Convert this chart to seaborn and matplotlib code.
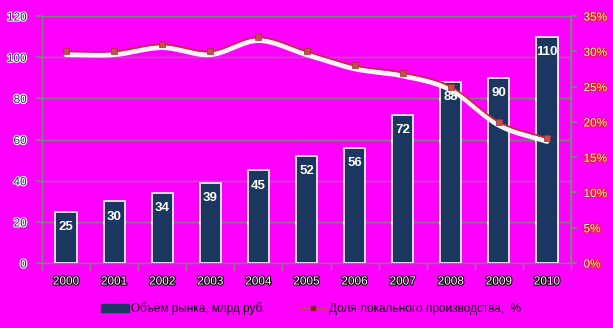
import numpy as np
import pandas as pd
import matplotlib
matplotlib.use("Agg")
import matplotlib.pyplot as plt
import matplotlib.patheffects as pe
from matplotlib.lines import Line2D
from matplotlib.patches import Patch
import seaborn as sns

years = ["2000", "2001", "2002", "2003", "2004", "2005", "2006", "2007", "2008", "2009", "2010"]
market_volume = [25, 30, 34, 39, 45, 52, 56, 72, 88, 90, 110]
local_share = [30.0, 30.0, 31.0, 30.0, 32.0, 30.0, 28.0, 27.0, 25.0, 20.0, 17.7]
left_ticks = [0, 20, 40, 60, 80, 100, 120]
right_ticks = [0, 5, 10, 15, 20, 25, 30, 35]
bar_label = "Объём рынка, млрд руб."
line_label = "Доля локального производства,  %"

sns.set_theme(style="white")
plt.rcParams["font.family"] = ["Liberation Sans", "DejaVu Sans"]

BG = "#FF00FF"
NAVY = "#1B3660"
RED = "#C0504D"
GRID = "#808080"

fig = plt.figure(figsize=(6.13, 3.28), dpi=100, facecolor=BG)
ax = fig.add_axes([0.0685, 0.198, 0.863, 0.753])
ax.set_facecolor(BG)

df = pd.DataFrame({"year": years, "volume": market_volume, "share": local_share})

sns.barplot(data=df, x="year", y="volume", ax=ax, color=NAVY, saturation=1,
            edgecolor="white", linewidth=1.2, width=0.44, zorder=3)
ax.set_ylim(0, 120)
ax.set_xlim(-0.5, len(years) - 0.5)
ax.set_yticks(left_ticks)
ax.set_xlabel("")
ax.set_ylabel("")
ax.grid(axis="y", color=GRID, linewidth=1.0, zorder=0)
ax.set_axisbelow(True)

for i, v in enumerate(market_volume):
    ax.annotate(str(v), (i, v), xytext=(0, -11), textcoords="offset points",
                ha="center", va="center", color="white", fontsize=9.5,
                fontweight="bold", zorder=5)

ax.spines["top"].set_visible(False)
for s in ["left", "bottom", "right"]:
    ax.spines[s].set_color(GRID)
    ax.spines[s].set_linewidth(1.0)

ax.tick_params(axis="y", length=4, color=GRID, direction="out", left=True,
               labelsize=8.5, labelcolor=NAVY, pad=7)
ax.tick_params(axis="x", length=0, labelsize=8.5, labelcolor="white", pad=9)
ax.set_xticks(np.arange(len(years) + 1) - 0.5, minor=True)
ax.tick_params(axis="x", which="minor", length=5, color=GRID, bottom=True)
for t in ax.get_yticklabels():
    t.set_path_effects([pe.withStroke(linewidth=1.5, foreground="white")])
for t in ax.get_xticklabels():
    t.set_path_effects([pe.withStroke(linewidth=1.5, foreground="black")])

ax2 = ax.twinx()
ax2.set_ylim(0, 35)
ax2.set_yticks(right_ticks)
ax2.set_yticklabels([f"{t}%" for t in right_ticks])
ax2.grid(False)
for s in ["top", "left", "bottom"]:
    ax2.spines[s].set_visible(False)
ax2.spines["right"].set_color(GRID)
ax2.tick_params(axis="y", length=4, color=GRID, direction="out", right=True,
                labelsize=8.5, labelcolor="#FFF4E0", pad=5)
for t in ax2.get_yticklabels():
    t.set_path_effects([pe.withStroke(linewidth=1.3, foreground="#E02020")])

# smooth curve through the data points (Catmull-Rom)
x = np.arange(len(years), dtype=float)
y = np.array(local_share, dtype=float)
px = np.concatenate([[2 * x[0] - x[1]], x, [2 * x[-1] - x[-2]]])
py = np.concatenate([[2 * y[0] - y[1]], y, [2 * y[-1] - y[-2]]])
sx, sy = [], []
t = np.linspace(0, 1, 20)
for i in range(1, len(px) - 2):
    p0, p1, p2, p3 = px[i - 1], px[i], px[i + 1], px[i + 2]
    q0, q1, q2, q3 = py[i - 1], py[i], py[i + 1], py[i + 2]
    sx.extend(0.5 * (2 * p1 + (-p0 + p2) * t + (2 * p0 - 5 * p1 + 4 * p2 - p3) * t**2 + (-p0 + 3 * p1 - 3 * p2 + p3) * t**3))
    sy.extend(0.5 * (2 * q1 + (-q0 + q2) * t + (2 * q0 - 5 * q1 + 4 * q2 - q3) * t**2 + (-q0 + 3 * q1 - 3 * q2 + q3) * t**3))
ax2.plot(sx, sy, color="#C03030", linewidth=1.2, zorder=4,
         path_effects=[pe.SimpleLineShadow(offset=(0, -2.4), shadow_color="white", alpha=0.95, linewidth=3.5),
                       pe.Normal()])
sns.scatterplot(data=df.assign(xi=x), x="xi", y="share", ax=ax2, marker="s", s=22,
                color=RED, edgecolor="#A03030", linewidth=0.5, zorder=5, legend=False)
ax2.set_xlabel("")
ax2.set_ylabel("")
ax2.set_xlim(-0.5, len(years) - 0.5)

handles = [Patch(facecolor=NAVY, edgecolor=NAVY),
           Line2D([0], [0], color=RED, linewidth=0.8, marker="s", markersize=3,
                  markerfacecolor="#802020", markeredgecolor="#802020")]
fig.legend(handles, [bar_label, line_label], loc="center", bbox_to_anchor=(0.508, 0.058),
           ncol=2, frameon=False, fontsize=8.5, handlelength=2.3, handletextpad=0.2,
           columnspacing=2.9, labelcolor="black")

fig.savefig("out.png", dpi=100, facecolor=BG)
